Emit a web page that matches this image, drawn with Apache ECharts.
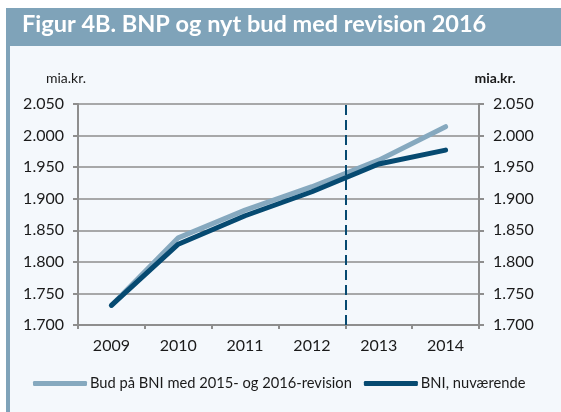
<!DOCTYPE html>
<html>
<head>
<meta charset="utf-8">
<script src="https://cdn.jsdelivr.net/npm/echarts@6/dist/echarts.min.js"></script>
<style>
  html, body { margin: 0; padding: 0; background: #fff; }
  #chart { width: 561px; height: 412px; }
</style>
</head>
<body>
<div id="chart"></div>
<script>
const years = ['2009', '2010', '2011', '2012', '2013', '2014'];
const budRevision = [1731, 1838, 1882, 1919, 1961, 2014];
const bniNow = [1731, 1828, 1873, 1911, 1955, 1977];
const yMin = 1700;
const yMax = 2050;
const yStep = 50;
// revision break sits between 2012 and 2013 (4 of 6 category bands)
const breakPos = 4;

const lightBlue = '#86a9bf';
const darkBlue = '#064a71';
const gridGray = '#8e8e8e';
const font = 'Lato';

const chart = echarts.init(document.getElementById('chart'));

function fmt(v) {
    // danish thousands separator
    return String(v).replace(/\B(?=(\d{3})+(?!\d))/g, '.');
}

const yAxisBase = {
    type: 'value',
    min: yMin,
    max: yMax,
    interval: yStep,
    axisLine: { show: true, lineStyle: { color: gridGray, width: 2 } },
    axisTick: { show: true, length: 5, lineStyle: { color: gridGray, width: 2 } },
    axisLabel: { color: '#1a1a1a', fontSize: 16, fontFamily: font, margin: 14, formatter: fmt },
    splitLine: { show: true, lineStyle: { color: gridGray, width: 1.5 } }
};

const option = {
    animation: false,
    textStyle: { fontFamily: font },
    graphic: [
        { type: 'rect', shape: { x: 10, y: 46, width: 551, height: 366 }, style: { fill: '#f4f8fc' }, z: -10 },
        { type: 'rect', shape: { x: 6, y: 8, width: 555, height: 38 }, style: { fill: '#7fa3b9' }, z: -10 },
        { type: 'rect', shape: { x: 6, y: 46, width: 4, height: 366 }, style: { fill: '#7fa3b9' }, z: -10 },
        {
            type: 'text', left: 22, top: 12,
            style: { text: 'Figur 4B. BNP og nyt bud med revision 2016', fill: '#fff', fontSize: 23.5, fontWeight: 'bold', fontFamily: font }
        },
        {
            type: 'text', x: 66, y: 78,
            style: { text: 'mia.kr.', fill: '#1a1a1a', fontSize: 14, fontFamily: font, align: 'center', verticalAlign: 'middle' }
        },
        {
            type: 'text', x: 495, y: 78,
            style: { text: 'mia.kr.', fill: '#1a1a1a', fontSize: 14, fontWeight: 'bold', fontFamily: font, align: 'center', verticalAlign: 'middle' }
        }
    ],
    grid: { left: 78, right: 82, top: 104, bottom: 87 },
    legend: {
        bottom: 21,
        left: 33,
        padding: 0,
        itemWidth: 54,
        itemHeight: 5,
        itemGap: 12,
        icon: 'roundRect',
        textStyle: { fontSize: 14.7, color: '#1a1a1a', fontFamily: font, padding: [0, 0, 0, -2] },
        data: ['Bud på BNI med 2015- og 2016-revision', 'BNI, nuværende']
    },
    xAxis: [
        {
            type: 'category',
            data: years,
            boundaryGap: true,
            axisLine: { lineStyle: { color: gridGray, width: 2 } },
            axisTick: { show: true, length: 4, lineStyle: { color: gridGray, width: 2 } },
            axisLabel: { color: '#1a1a1a', fontSize: 16, fontFamily: font, margin: 13 }
        },
        {
            type: 'value',
            min: 0,
            max: years.length,
            show: false
        }
    ],
    yAxis: [
        Object.assign({}, yAxisBase, { position: 'left' }),
        Object.assign({}, yAxisBase, { position: 'right', splitLine: { show: false } })
    ],
    series: [
        {
            name: 'Bud på BNI med 2015- og 2016-revision',
            type: 'line',
            data: budRevision,
            symbol: 'none',
            color: lightBlue,
            lineStyle: { width: 5, cap: 'round', join: 'round' }
        },
        {
            name: 'BNI, nuværende',
            type: 'line',
            data: bniNow,
            symbol: 'none',
            color: darkBlue,
            lineStyle: { width: 5, cap: 'round', join: 'round' }
        },
        {
            name: 'break',
            type: 'line',
            xAxisIndex: 1,
            data: [],
            markLine: {
                silent: true,
                symbol: 'none',
                label: { show: false },
                lineStyle: { color: darkBlue, width: 2, type: [10, 5] },
                data: [{ xAxis: breakPos }]
            }
        }
    ]
};

chart.setOption(option);
</script>
</body>
</html>
